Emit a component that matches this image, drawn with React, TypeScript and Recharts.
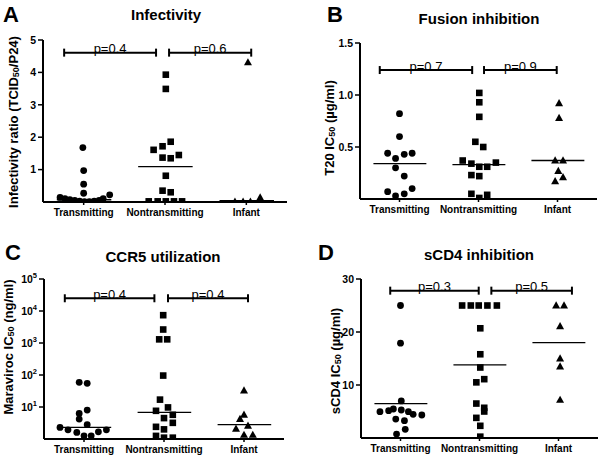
import React from 'react';
import { ScatterChart, Scatter, XAxis, YAxis, ReferenceLine } from 'recharts';

const FONT = '"Liberation Sans", Arial, Helvetica, sans-serif';

const categories = ['Transmitting', 'Nontransmitting', 'Infant'];
const categoryTicks = [0.5, 1.5, 2.5];

// ---- Panel A: Infectivity ----
const infectivityTransmitting = [
  { x: 0.21, y: 0.14 }, { x: 0.27, y: 0.1 }, { x: 0.33, y: 0.07 }, { x: 0.39, y: 0.05 },
  { x: 0.45, y: 0.03 }, { x: 0.51, y: 0.01 }, { x: 0.57, y: 0.01 }, { x: 0.63, y: 0.03 },
  { x: 0.69, y: 0.05 }, { x: 0.74, y: 0.1 }, { x: 0.82, y: 0.22 }, { x: 0.5, y: 0.27 },
  { x: 0.5, y: 0.55 }, { x: 0.5, y: 0.97 }, { x: 0.49, y: 1.68 },
];
const infectivityNontransmitting = [
  { x: 1.51, y: 3.93 }, { x: 1.51, y: 3.49 }, { x: 1.57, y: 1.86 }, { x: 1.47, y: 1.72 },
  { x: 1.36, y: 1.61 }, { x: 1.47, y: 1.37 }, { x: 1.57, y: 1.35 }, { x: 1.67, y: 1.45 },
  { x: 1.51, y: 0.81 }, { x: 1.47, y: 0.35 }, { x: 1.57, y: 0.3 }, { x: 1.3, y: 0.02 },
  { x: 1.41, y: 0.02 }, { x: 1.51, y: 0.02 }, { x: 1.61, y: 0.02 }, { x: 1.71, y: 0.02 },
];
const infectivityInfant = [
  { x: 2.52, y: 4.31 }, { x: 2.67, y: 0.14 }, { x: 2.36, y: 0.01 }, { x: 2.46, y: 0.01 }, { x: 2.55, y: 0.01 },
];
const infectivityMedians = [0.07, 1.09, 0.04];
const infectivityTicks = [1, 2, 3, 4, 5];
const infectivityBrackets = [
  { from: 0.26, to: 1.39, y: 4.61, label: 'p=0.4' },
  { from: 1.55, to: 2.56, y: 4.61, label: 'p=0.6' },
];

// ---- Panel B: Fusion inhibition ----
const fusionTransmitting = [
  { x: 0.5, y: 0.82 }, { x: 0.5, y: 0.6 }, { x: 0.35, y: 0.44 }, { x: 0.45, y: 0.39 },
  { x: 0.56, y: 0.43 }, { x: 0.66, y: 0.44 }, { x: 0.45, y: 0.3 }, { x: 0.56, y: 0.22 },
  { x: 0.35, y: 0.07 }, { x: 0.45, y: 0.03 }, { x: 0.56, y: 0.05 }, { x: 0.66, y: 0.1 },
];
const fusionNontransmitting = [
  { x: 1.51, y: 1.02 }, { x: 1.51, y: 0.93 }, { x: 1.51, y: 0.79 }, { x: 1.46, y: 0.55 },
  { x: 1.56, y: 0.5 }, { x: 1.3, y: 0.37 }, { x: 1.41, y: 0.34 }, { x: 1.51, y: 0.31 },
  { x: 1.61, y: 0.31 }, { x: 1.72, y: 0.35 }, { x: 1.41, y: 0.23 }, { x: 1.51, y: 0.22 },
  { x: 1.41, y: 0.05 }, { x: 1.51, y: 0.01 }, { x: 1.61, y: 0.04 },
];
const fusionInfant = [
  { x: 2.52, y: 0.92 }, { x: 2.52, y: 0.78 }, { x: 2.47, y: 0.37 }, { x: 2.57, y: 0.37 },
  { x: 2.51, y: 0.27 }, { x: 2.57, y: 0.21 }, { x: 2.47, y: 0.17 },
];
const fusionMedians = [0.34, 0.33, 0.37];
const fusionTicks = [0.5, 1.0, 1.5];
const fusionBrackets = [
  { from: 0.25, to: 1.42, y: 1.24, label: 'p=0.7' },
  { from: 1.57, to: 2.49, y: 1.24, label: 'p=0.9' },
];

// ---- Panel C: CCR5 utilization ----
const ccr5Transmitting = [
  { x: 0.44, y: 59 }, { x: 0.54, y: 55 }, { x: 0.44, y: 6.3 }, { x: 0.54, y: 8.0 },
  { x: 0.44, y: 4.2 }, { x: 0.2, y: 2.3 }, { x: 0.3, y: 1.94 }, { x: 0.41, y: 1.6 },
  { x: 0.5, y: 1.26 }, { x: 0.59, y: 1.26 }, { x: 0.68, y: 1.67 }, { x: 0.78, y: 1.94 },
  { x: 0.54, y: 2.8 },
];
const ccr5Nontransmitting = [
  { x: 1.49, y: 7400 }, { x: 1.49, y: 2640 }, { x: 1.44, y: 1300 }, { x: 1.54, y: 1300 },
  { x: 1.49, y: 96 }, { x: 1.45, y: 17 }, { x: 1.4, y: 7.6 }, { x: 1.55, y: 9.7 },
  { x: 1.61, y: 5.7 }, { x: 1.5, y: 4.5 }, { x: 1.61, y: 3.2 }, { x: 1.4, y: 2.4 },
  { x: 1.5, y: 2.0 }, { x: 1.4, y: 1.25 }, { x: 1.5, y: 1.1 }, { x: 1.61, y: 1.1 },
];
const ccr5Infant = [
  { x: 2.5, y: 33 }, { x: 2.5, y: 5.7 }, { x: 2.45, y: 4.2 }, { x: 2.55, y: 2.6 },
  { x: 2.4, y: 2.1 }, { x: 2.5, y: 1.35 }, { x: 2.61, y: 1.35 },
];
const ccr5Medians = [2.3, 6.8, 2.8];
const ccr5Ticks = [10, 100, 1000, 10000, 100000];
const ccr5Brackets = [
  { from: 0.26, to: 1.38, y: 25000, label: 'p=0.4' },
  { from: 1.55, to: 2.55, y: 25000, label: 'p=0.4' },
];

// ---- Panel D: sCD4 inhibition ----
const sCD4Transmitting = [
  { x: 0.5, y: 25 }, { x: 0.5, y: 17.9 }, { x: 0.51, y: 7.0 }, { x: 0.24, y: 4.96 },
  { x: 0.35, y: 5.15 }, { x: 0.41, y: 5.47 }, { x: 0.51, y: 5.28 }, { x: 0.6, y: 4.96 },
  { x: 0.66, y: 4.47 }, { x: 0.77, y: 4.34 }, { x: 0.44, y: 3.58 }, { x: 0.55, y: 3.26 },
  { x: 0.56, y: 1.64 }, { x: 0.45, y: 0.75 },
];
const sCD4Nontransmitting = [
  { x: 1.28, y: 25 }, { x: 1.39, y: 25 }, { x: 1.49, y: 25 }, { x: 1.6, y: 25 },
  { x: 1.72, y: 25 }, { x: 1.51, y: 20.7 }, { x: 1.51, y: 15.8 }, { x: 1.51, y: 13.3 },
  { x: 1.56, y: 11.1 }, { x: 1.46, y: 10.5 }, { x: 1.46, y: 6.5 }, { x: 1.56, y: 5.7 },
  { x: 1.56, y: 5.0 }, { x: 1.46, y: 3.8 }, { x: 1.51, y: 2.3 }, { x: 1.51, y: 0.25 },
];
const sCD4Infant = [
  { x: 2.47, y: 25 }, { x: 2.57, y: 25 }, { x: 2.52, y: 21.1 }, { x: 2.52, y: 15.0 },
  { x: 2.52, y: 13.5 }, { x: 2.52, y: 7.2 },
];
const sCD4Medians = [6.5, 13.8, 18.0];
const sCD4Ticks = [10, 20, 30];
const sCD4Brackets = [
  { from: 0.37, to: 1.49, y: 27.8, label: 'p=0.3' },
  { from: 1.65, to: 2.67, y: 27.8, label: 'p=0.5' },
];

// ---- shapes ----
const CircleShape = (p: any) => <circle cx={p.cx} cy={p.cy} r={3.4} fill="#000" />;
const SquareShape = (p: any) => (
  <rect x={p.cx - 3.3} y={p.cy - 3.3} width={6.6} height={6.6} fill="#000" />
);
const TriangleShape = (p: any) => (
  <polygon
    points={`${p.cx},${p.cy - 4.2} ${p.cx + 4},${p.cy + 3} ${p.cx - 4},${p.cy + 3}`}
    fill="#000"
  />
);

const makeBracket = (text: string) => (p: any) => {
  const { x1, y1, x2 } = p;
  return (
    <g>
      <text
        x={(x1 + x2) / 2}
        y={y1 + 0.5}
        textAnchor="middle"
        fontSize={13}
        fontFamily={FONT}
        fill="#000"
      >
        {text}
      </text>
      <line x1={x1} y1={y1} x2={x2} y2={y1} stroke="#000" strokeWidth={2} />
      <line x1={x1} y1={y1 - 4} x2={x1} y2={y1 + 4} stroke="#000" strokeWidth={2} />
      <line x1={x2} y1={y1 - 4} x2={x2} y2={y1 + 4} stroke="#000" strokeWidth={2} />
    </g>
  );
};

const LogTick = (p: any) => {
  const { x, y, payload } = p;
  const exp = Math.round(Math.log10(payload.value));
  return (
    <text x={x} y={y} dy={4} textAnchor="end" fontSize={10.5} fontWeight={700} fontFamily={FONT} fill="#000">
      <tspan>10</tspan>
      <tspan dy={-5} fontSize={7.5}>{exp}</tspan>
    </text>
  );
};

const YLabel = ({ x, y, pre, sub, post }: any) => (
  <text
    transform={`rotate(-90 ${x} ${y})`}
    x={x}
    y={y}
    textAnchor="middle"
    dominantBaseline="central"
    fontSize={13}
    fontWeight={700}
    fontFamily={FONT}
    fill="#000"
  >
    <tspan>{pre}</tspan>
    <tspan dy={3} fontSize={9}>{sub}</tspan>
    <tspan dy={-3}>{post}</tspan>
  </text>
);

const panels = [
  {
    key: 'A', left: 0, top: 0, width: 300, height: 227,
    margin: { top: 40, right: 13, bottom: 0, left: 0 }, yW: 43, xH: 25,
    domain: [0, 5], ticks: infectivityTicks, log: false, fmt: (v: number) => String(v),
    series: [infectivityTransmitting, infectivityNontransmitting, infectivityInfant],
    medians: infectivityMedians, brackets: infectivityBrackets,
    label: { x: 13, y: 122, pre: 'Infectivity ratio (TCID', sub: '50', post: '/P24)' },
  },
  {
    key: 'B', left: 300, top: 0, width: 300, height: 227,
    margin: { top: 43, right: 3, bottom: 0, left: 0 }, yW: 60, xH: 28,
    domain: [0, 1.5], ticks: fusionTicks, log: false, fmt: (v: number) => v.toFixed(1),
    series: [fusionTransmitting, fusionNontransmitting, fusionInfant],
    medians: fusionMedians, brackets: fusionBrackets,
    label: { x: 29, y: 128, pre: 'T20 IC', sub: '50', post: ' (µg/ml)' },
  },
  {
    key: 'C', left: 0, top: 227, width: 300, height: 228,
    margin: { top: 52, right: 16, bottom: 0, left: 0 }, yW: 44, xH: 16,
    domain: [1, 100000], ticks: ccr5Ticks, log: true, fmt: (v: number) => String(v),
    series: [ccr5Transmitting, ccr5Nontransmitting, ccr5Infant],
    medians: ccr5Medians, brackets: ccr5Brackets,
    label: { x: 8, y: 120, pre: 'Maraviroc IC', sub: '50', post: ' (ng/ml)' },
  },
  {
    key: 'D', left: 300, top: 227, width: 300, height: 228,
    margin: { top: 52, right: 2, bottom: 0, left: 0 }, yW: 61, xH: 17,
    domain: [0, 30], ticks: sCD4Ticks, log: false, fmt: (v: number) => String(v),
    series: [sCD4Transmitting, sCD4Nontransmitting, sCD4Infant],
    medians: sCD4Medians, brackets: sCD4Brackets,
    label: { x: 35, y: 134, pre: 'sCD4 IC', sub: '50', post: ' (µg/ml)' },
  },
];

const shapes = [CircleShape, SquareShape, TriangleShape];

const headings = [
  { letter: 'A', lx: 3, ly: 21.7, title: 'Infectivity', tx: 166, ty: 19.5 },
  { letter: 'B', lx: 327, ly: 21.7, title: 'Fusion inhibition', tx: 479, ty: 24 },
  { letter: 'C', lx: 5, ly: 260, title: 'CCR5 utilization', tx: 163, ty: 262 },
  { letter: 'D', lx: 318, ly: 260, title: 'sCD4 inhibition', tx: 479, ty: 260 },
];

function Panel({ cfg }: any) {
  const lab = cfg.label;
  return (
    <div style={{ position: 'absolute', left: cfg.left, top: cfg.top, width: cfg.width, height: cfg.height }}>
      <ScatterChart width={cfg.width} height={cfg.height} margin={cfg.margin}>
        <XAxis
          type="number"
          dataKey="x"
          domain={[0, 3]}
          ticks={categoryTicks}
          interval={0}
          tickFormatter={(v: number) => categories[Math.floor(v)]}
          height={cfg.xH}
          tickSize={3}
          tickMargin={4}
          axisLine={{ stroke: '#000', strokeWidth: 2 }}
          tickLine={{ stroke: '#000', strokeWidth: 1.5 }}
          tick={{ fill: '#000', fontSize: 10, fontWeight: 700, fontFamily: FONT }}
          allowDataOverflow
        />
        <YAxis
          type="number"
          dataKey="y"
          scale={cfg.log ? 'log' : 'auto'}
          domain={cfg.domain}
          ticks={cfg.ticks}
          interval={0}
          width={cfg.yW}
          tickSize={5}
          tickMargin={2}
          tickFormatter={cfg.fmt}
          axisLine={{ stroke: '#000', strokeWidth: 2 }}
          tickLine={{ stroke: '#000', strokeWidth: 1.5 }}
          tick={cfg.log ? <LogTick /> : { fill: '#000', fontSize: 10.5, fontWeight: 700, fontFamily: FONT }}
          allowDataOverflow
          label={() => <YLabel {...lab} />}
        />
        {cfg.series.map((d: any, i: number) => (
          <Scatter key={`s${i}`} data={d} shape={shapes[i]} fill="#000" isAnimationActive={false} />
        ))}
        {cfg.medians.map((m: number, i: number) => (
          <ReferenceLine
            key={`m${i}`}
            segment={[{ x: i + 0.17, y: m }, { x: i + 0.84, y: m }]}
            stroke="#000"
            strokeWidth={1.3}
          />
        ))}
        {cfg.brackets.map((b: any, i: number) => (
          <ReferenceLine
            key={`b${i}`}
            segment={[{ x: b.from, y: b.y }, { x: b.to, y: b.y }]}
            stroke="#000"
            shape={makeBracket(b.label)}
          />
        ))}
      </ScatterChart>
    </div>
  );
}

export default function App() {
  return (
    <div style={{ position: 'absolute', left: 0, top: 0, width: 600, height: 455, background: '#fff', overflow: 'hidden' }}>
      {panels.map((p) => (
        <Panel key={p.key} cfg={p} />
      ))}
      <svg width={600} height={455} style={{ position: 'absolute', left: 0, top: 0, pointerEvents: 'none' }}>
        {headings.map((h) => (
          <g key={h.letter}>
            <text x={h.lx} y={h.ly} fontSize={22} fontWeight={700} fontFamily={FONT} fill="#000">{h.letter}</text>
            <text x={h.tx} y={h.ty} textAnchor="middle" fontSize={15} fontWeight={700} fontFamily={FONT} fill="#000">{h.title}</text>
          </g>
        ))}
      </svg>
    </div>
  );
}
